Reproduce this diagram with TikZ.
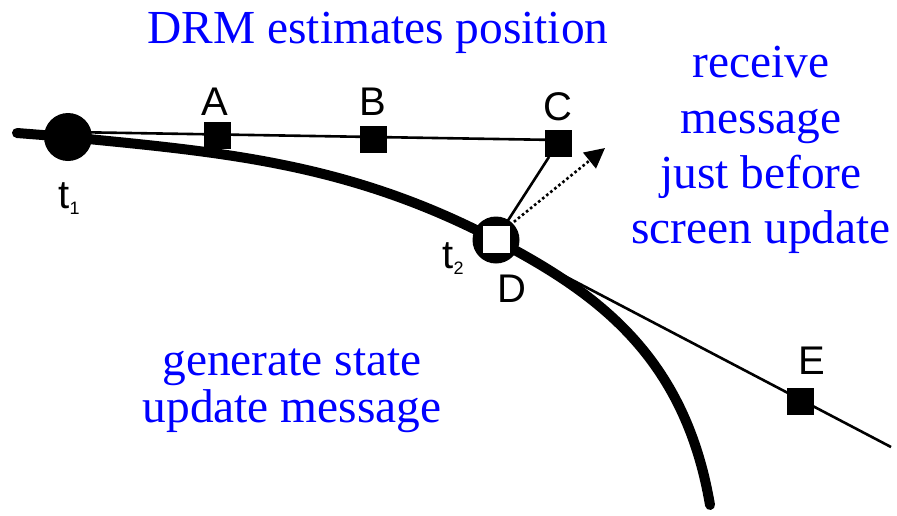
\documentclass[tikz,border=0pt]{standalone}
\usepackage{fontspec}
\setmainfont{Liberation Serif}
\setsansfont{Liberation Sans}
\usetikzlibrary{arrows.meta,calc}
\pgfdeclarelayer{back}
\pgfsetlayers{back,main}
\begin{document}
\begin{tikzpicture}[x=0.5pt,y=-0.5pt,
  note/.style={text=blue, font=\fontsize{23.7}{28}\selectfont, inner sep=0, anchor=base},
  lbl/.style={font=\sffamily\fontsize{20}{24}\selectfont, inner sep=0, anchor=base},
  marker/.style={rectangle, fill=black, minimum size=13.5pt, inner sep=0},
  instant/.style={circle, fill=black, minimum size=24pt, inner sep=0},
  ray/.style={line width=1.3pt},
  track/.style={line width=5pt, line cap=round, line join=round}
]
\useasboundingbox (0,0) rectangle (897,515);

% time instants on the true track
\node[instant] (t1) at (68,137) {};
\node[instant, minimum size=23.5pt] (D) at (496,240) {};
\node[marker, fill=white] (Dsq) at (496,239) {};

% dead-reckoned positions
\node[marker] (A) at (217,135.5) {};
\node[marker] (B) at (373,139.5) {};
\node[marker] (C) at (558,143) {};
\node[marker] (E) at (800,401) {};

\coordinate (start) at (17,133);
\coordinate (finish) at (710,505);
\coordinate (rayend) at (891,447);
\coordinate (tip) at (605,148);

\begin{pgfonlayer}{back}
  % true path of the entity
  \draw[track] (start) -- (t1.center)
    .. controls (218,152) and (346,161.4) .. (D.center)
    .. controls (596,292.4) and (684.5,355) .. (finish);
  % extrapolations
  \draw[ray] ($(t1.center)+(0,-5)$) -- ($(C.center)+(0,-3)$);
  \draw[ray] (D.center) -- (rayend);
\end{pgfonlayer}

% correction after the update arrives
\draw[ray] (Dsq) -- (C);
\draw[ray, dash pattern=on 1.3pt off 1.3pt, -{Triangle[length=10pt,width=10pt]}]
  (Dsq.north east) -- (tip);

% point labels
\node[lbl] (lA) at (215,115) {A};
\node[lbl] (lB) at (373,115) {B};
\node[lbl] (lC) at (558,120) {C};
\node[lbl] (lD) at (512,302) {D};
\node[lbl] (lE) at (812,374) {E};
\node[lbl, anchor=base west] (lt1) at (58,208) {t\raisebox{-3pt}{\fontsize{9}{10}\selectfont 1}};
\node[lbl, anchor=base west] (lt2) at (442,268) {t\raisebox{-3pt}{\fontsize{9}{10}\selectfont 2}};

% annotations
\node[note] (title) at (378,43) {DRM estimates position};
\node[note] (r1) at (761,77) {receive};
\node[note] (r2) at (761,133) {message};
\node[note] (r3) at (761,188) {just before};
\node[note] (r4) at (761,243) {screen update};
\node[note] (g1) at (292,375) {generate state};
\node[note] (g2) at (292,422) {update message};
\end{tikzpicture}
\end{document}
